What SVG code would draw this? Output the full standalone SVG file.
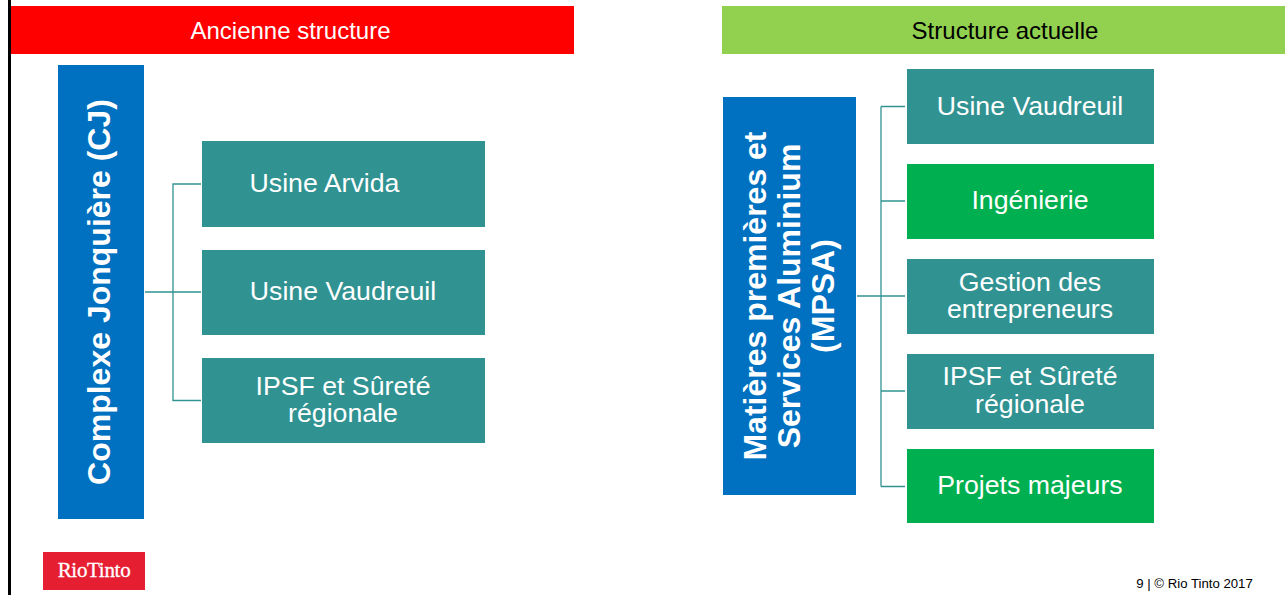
<svg xmlns="http://www.w3.org/2000/svg" width="1285" height="595" viewBox="0 0 1285 595">
<style>
text{font-family:"Liberation Sans",Arial,sans-serif;text-anchor:middle}
.w{fill:#fff}
.t{font-size:26.700px;fill:#fff}
.h{font-size:24px}
.b{font-size:32px;font-weight:700;fill:#fff}
.teal{fill:#319292}
.green{fill:#00b050}
.blue{fill:#0070c0}
.c{fill:none;stroke:#319292;stroke-width:1.3}
</style>
<rect width="1285" height="595" fill="#fff"/>
<rect x="8" y="0" width="3" height="595" fill="#000"/>
<g id="header-old"><rect x="11" y="6" width="563" height="48" fill="#ff0000"/><text class="h w" x="290.500" y="39">Ancienne structure</text></g>
<g id="header-new"><rect x="722" y="6" width="563" height="48" fill="#92d050"/><text class="h" x="1005" y="39" fill="#000">Structure actuelle</text></g>
<g id="connectors">
<path class="c" d="M145 292H201M173 292V184H201M173 292V400.500H201"/>
<path class="c" d="M857 296H905M881 106.500V486.500M881 106.500H905M881 201H905M881 391H905M881 486.500H905"/>
</g>
<g id="cj"><rect class="blue" x="58" y="65" width="86" height="454"/><text class="b" transform="translate(110 292) rotate(-90)">Complexe Jonquière (CJ)</text></g>
<g id="n1"><rect class="teal" x="202" y="141" width="283" height="86"/><text class="t" x="324.500" y="192">Usine Arvida</text></g>
<g id="n2"><rect class="teal" x="202" y="250" width="283" height="85"/><text class="t" x="343" y="300">Usine Vaudreuil</text></g>
<g id="n3"><rect class="teal" x="202" y="358" width="283" height="85"/><text class="t"><tspan x="343" y="395">IPSF et Sûreté</tspan><tspan x="343" y="422">régionale</tspan></text></g>
<g id="mpsa"><rect class="blue" x="723" y="97" width="133" height="398"/>
<text class="b" transform="translate(0 296) rotate(-90)"><tspan x="0" y="765.500">Matières premières et</tspan><tspan x="0" y="799.500">Services Aluminium</tspan><tspan x="0" y="833.500">(MPSA)</tspan></text></g>
<g id="m1"><rect class="teal" x="907" y="69" width="247" height="75"/><text class="t" x="1030" y="115">Usine Vaudreuil</text></g>
<g id="m2"><rect class="green" x="907" y="164" width="247" height="75"/><text class="t" x="1030" y="209">Ingénierie</text></g>
<g id="m3"><rect class="teal" x="907" y="259" width="247" height="75"/><text class="t"><tspan x="1030" y="291">Gestion des</tspan><tspan x="1030" y="318">entrepreneurs</tspan></text></g>
<g id="m4"><rect class="teal" x="907" y="354" width="247" height="75"/><text class="t"><tspan x="1030" y="385">IPSF et Sûreté</tspan><tspan x="1030" y="413">régionale</tspan></text></g>
<g id="m5"><rect class="green" x="907" y="449" width="247" height="74"/><text class="t" x="1030" y="494">Projets majeurs</text></g>
<g id="logo"><rect x="43" y="552" width="102" height="38" fill="#e61e32"/><text x="94" y="577" style="font-family:'Liberation Serif',serif;font-size:21px;letter-spacing:-.3px;stroke:#fff;stroke-width:.3px" class="w">RioTinto</text></g>
<text x="1194.500" y="588" style="font-size:13.200px" fill="#000">9 | © Rio Tinto 2017</text>
</svg>
